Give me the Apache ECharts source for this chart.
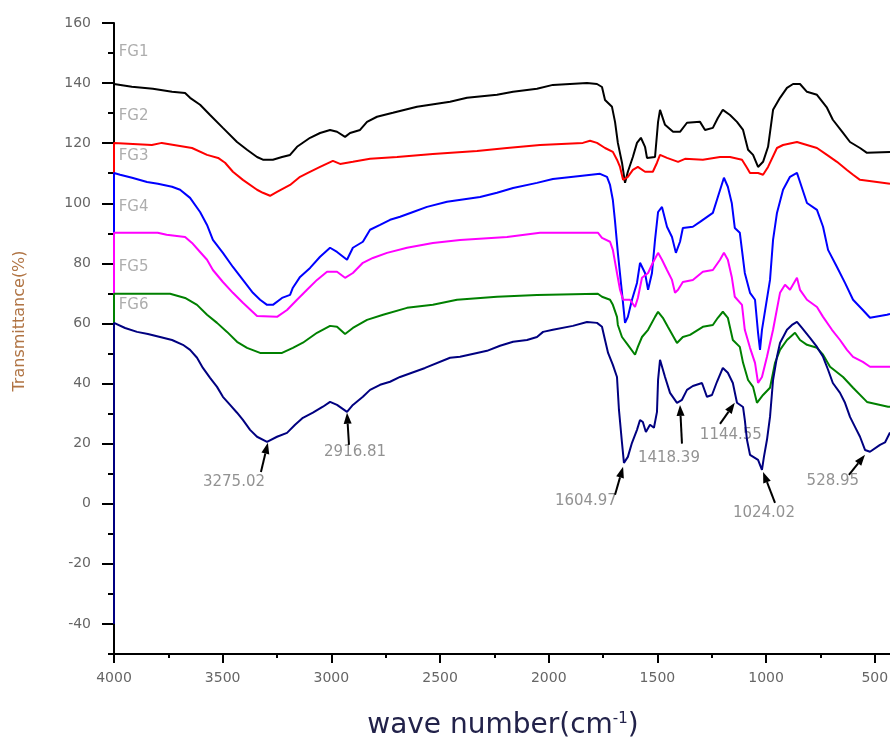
<!DOCTYPE html>
<html>
<head>
<meta charset="utf-8">
<script src="https://cdn.jsdelivr.net/npm/echarts@6/dist/echarts.min.js"></script>
<style>
  html, body { margin: 0; padding: 0; background: #fff; }
  #chart { width: 890px; height: 742px; }
</style>
</head>
<body>
<div id="chart"></div>
<script>
// FTIR spectra, [wavenumber cm-1, transmittance %]
const seriesNames = ["FG1", "FG2", "FG3", "FG4", "FG5", "FG6"];

const fg1 = [[4000,-40],[4000,139.7],[3918,138.8],[3821,138.1],[3733,137.1],[3673,136.7],[3650,135.1],[3604,132.8],[3558,129.4],[3499,125.1],[3434,120.4],[3388,117.8],[3342,115.4],[3315,114.5],[3269,114.5],[3227,115.4],[3190,116.1],[3158,118.8],[3098,121.8],[3052,123.4],[3006,124.4],[2974,123.8],[2937,122.1],[2914,123.4],[2868,124.4],[2836,127.1],[2790,128.8],[2717,130.1],[2606,132.1],[2454,133.8],[2376,135.1],[2238,136.1],[2164,137.1],[2054,138.1],[1981,139.4],[1824,140],[1778,139.7],[1755,138.7],[1741,134.4],[1709,132.1],[1695,127.1],[1682,120.1],[1663,113.5],[1649,106.8],[1636,110.5],[1613,115.4],[1594,120.1],[1576,121.8],[1557,118.8],[1548,115.1],[1511,115.4],[1497,127.1],[1488,131.1],[1465,126.1],[1428,123.8],[1396,123.8],[1364,126.8],[1304,127.1],[1281,124.4],[1245,125.1],[1222,128.4],[1199,131.1],[1166,129.4],[1134,127.1],[1106,124.4],[1083,117.8],[1060,116.1],[1037,112.1],[1014,113.8],[991,118.8],[968,131.1],[936,135.1],[904,138.4],[876,139.7],[844,139.7],[812,137.1],[766,136.1],[720,131.8],[693,127.8],[646,123.4],[614,120.4],[568,118.4],[536,116.8],[430,117.1]];

const fg2 = [[4000,-40],[4000,120.1],[3826,119.4],[3780,120.1],[3641,118.4],[3572,116.1],[3521,115.1],[3489,113.5],[3453,110.5],[3407,107.8],[3342,104.5],[3315,103.5],[3282,102.5],[3250,103.8],[3190,106.1],[3144,108.8],[3108,110.1],[3052,112.1],[2993,114.1],[2960,113.1],[2901,113.8],[2822,114.8],[2698,115.4],[2533,116.4],[2330,117.4],[2192,118.4],[2040,119.4],[1843,120.1],[1810,120.8],[1778,120.1],[1741,118.4],[1705,117.1],[1686,114.5],[1672,112.1],[1658,107.8],[1636,108.8],[1613,111.1],[1590,112.1],[1557,110.5],[1521,110.5],[1502,113.5],[1488,116.1],[1456,115.1],[1405,113.8],[1373,114.8],[1291,114.5],[1212,115.4],[1166,115.4],[1111,114.5],[1088,111.8],[1074,110.1],[1037,110.1],[1014,109.5],[991,112.1],[950,118.4],[922,119.4],[858,120.4],[812,119.4],[766,118.4],[720,116.1],[674,113.8],[628,111.1],[600,109.5],[568,107.8],[490,107.1],[430,106.5]];

const fg3 = [[4000,-40],[4000,110.1],[3972,109.5],[3917,108.5],[3848,107.1],[3798,106.5],[3733,105.5],[3696,104.5],[3650,101.8],[3604,97.1],[3572,92.8],[3545,87.8],[3499,83.5],[3453,78.8],[3407,74.5],[3361,70.2],[3328,67.9],[3296,66.2],[3269,66.2],[3227,68.5],[3190,69.5],[3177,71.9],[3144,75.5],[3098,78.5],[3052,82.2],[3006,85.2],[2974,83.8],[2928,81.2],[2901,85.2],[2855,87.2],[2822,91.2],[2776,92.8],[2730,94.5],[2684,95.5],[2624,97.1],[2560,98.8],[2468,100.5],[2316,102.1],[2238,103.5],[2164,105.1],[2054,106.8],[1981,108.1],[1856,109.1],[1764,109.8],[1732,108.8],[1718,106.1],[1705,101.1],[1695,94],[1682,83.5],[1663,70.2],[1649,60.2],[1636,62.2],[1617,67.9],[1594,73.5],[1580,80.2],[1557,76.8],[1543,71.2],[1525,76.8],[1511,87.8],[1497,97.1],[1479,98.8],[1456,92.2],[1433,88.8],[1415,83.5],[1396,87.2],[1383,91.8],[1337,92.2],[1304,93.8],[1245,96.8],[1222,102.1],[1194,108.5],[1176,105.5],[1158,100.1],[1144,91.8],[1121,90.2],[1098,76.8],[1074,70.2],[1051,67.9],[1037,56.9],[1028,51.2],[1019,57.9],[982,74.5],[968,87.8],[950,96.8],[922,104.5],[890,108.8],[858,110.1],[844,107.1],[812,100.1],[766,97.8],[738,92.2],[715,84.5],[674,78.8],[637,73.5],[600,67.9],[555,64.5],[522,61.9],[444,62.9],[430,63.2]];

const fg4 = [[4000,-40],[4000,90.2],[3799,90.2],[3758,89.5],[3673,88.8],[3641,86.8],[3604,83.8],[3572,81.2],[3545,77.8],[3499,73.8],[3453,70.2],[3407,66.9],[3342,62.5],[3250,62.2],[3204,64.5],[3158,67.9],[3112,71.2],[3066,74.5],[3020,77.2],[2974,77.2],[2937,75.2],[2901,76.8],[2855,80.2],[2809,81.8],[2744,83.5],[2652,85.2],[2533,86.8],[2408,87.8],[2192,88.8],[2040,90.2],[1774,90.2],[1755,88.5],[1718,87.2],[1705,84.5],[1686,76.8],[1672,71.2],[1658,67.9],[1626,67.9],[1603,65.5],[1590,68.5],[1571,75.2],[1543,76.8],[1521,80.2],[1497,83.5],[1479,81.2],[1456,77.8],[1433,74.5],[1419,70.2],[1405,71.2],[1383,73.8],[1337,74.5],[1291,77.2],[1245,77.8],[1212,81.2],[1194,83.5],[1176,81.2],[1158,75.5],[1144,68.9],[1111,66.2],[1098,57.9],[1074,51.9],[1051,46.9],[1037,40.2],[1019,42.2],[996,48.9],[968,57.9],[936,70.2],[913,72.9],[890,71.2],[858,75.2],[844,71.2],[812,67.9],[766,65.5],[738,62.2],[697,57.9],[660,54.5],[628,51.2],[600,48.9],[555,47.2],[522,45.6],[439,45.6],[430,45.6]];

const fg5 = [[4000,-40],[4000,69.9],[3742,69.9],[3673,68.5],[3618,66.2],[3572,62.9],[3526,60.2],[3480,57.2],[3434,53.9],[3388,51.9],[3328,50.2],[3227,50.2],[3177,51.9],[3131,53.6],[3066,56.9],[3006,59.2],[2974,58.9],[2937,56.5],[2901,58.5],[2836,61.2],[2762,62.9],[2652,65.2],[2533,66.2],[2422,67.9],[2238,68.9],[2054,69.5],[1774,69.9],[1755,68.9],[1718,67.9],[1705,66.2],[1686,62.2],[1682,59.5],[1663,55.5],[1636,52.9],[1603,49.6],[1590,52.2],[1571,55.5],[1543,57.9],[1511,62.2],[1497,63.9],[1475,61.9],[1452,58.9],[1410,53.5],[1383,55.5],[1350,56.2],[1291,58.9],[1245,59.5],[1222,61.9],[1199,63.9],[1176,61.9],[1153,54.5],[1121,52.2],[1106,46.9],[1083,41.2],[1060,38.9],[1042,33.6],[1014,36.2],[982,38.6],[959,46.9],[936,51.2],[904,54.5],[867,56.9],[844,54.5],[812,52.9],[766,51.9],[738,49.6],[706,45.6],[646,42.2],[600,38.6],[536,33.9],[439,32.3],[430,32.3]];

const fg6 = [[4000,-40],[4000,60.2],[3949,58.5],[3894,57.2],[3844,56.5],[3788,55.5],[3733,54.5],[3683,52.9],[3650,51.2],[3618,48.6],[3591,45.2],[3558,41.9],[3526,38.9],[3499,35.6],[3466,32.9],[3434,30.3],[3407,27.9],[3374,24.6],[3342,22.3],[3296,20.6],[3250,22.3],[3204,23.6],[3167,26.3],[3131,28.6],[3085,30.3],[3039,32.3],[3006,33.9],[2974,32.9],[2928,30.6],[2901,32.9],[2855,35.6],[2822,37.9],[2776,39.6],[2730,40.6],[2684,42.2],[2569,45.2],[2454,48.6],[2408,48.9],[2330,50.2],[2284,50.9],[2224,52.6],[2164,53.9],[2100,54.5],[2054,55.5],[2026,57.2],[1981,57.9],[1889,59.2],[1824,60.5],[1778,60.2],[1755,58.9],[1741,54.5],[1727,50.2],[1705,46.2],[1686,42.2],[1677,31.3],[1663,20.3],[1654,13.6],[1636,15.6],[1617,20.3],[1594,24.6],[1580,27.9],[1567,27.2],[1553,23.9],[1534,26.3],[1516,25.3],[1502,30.6],[1497,41.2],[1488,47.9],[1465,42.2],[1442,36.9],[1410,33.6],[1387,34.6],[1364,37.9],[1337,39.2],[1295,40.2],[1272,35.6],[1249,36.2],[1226,40.6],[1199,45.2],[1176,43.6],[1153,40.2],[1134,33.6],[1106,32.2],[1098,27.9],[1088,21.3],[1074,16.3],[1037,14.6],[1019,11.3],[1010,15.6],[996,21.3],[982,28.9],[968,41.2],[950,48.9],[936,53.5],[904,57.9],[881,59.5],[858,60.5],[835,58.5],[798,55.2],[766,52.2],[738,48.9],[715,44.6],[693,40.2],[660,36.9],[637,33.6],[614,28.9],[591,25.6],[568,22.3],[545,17.9],[522,17.3],[476,19.6],[453,20.4],[430,23.7]];

const seriesData = [fg1, fg2, fg3, fg4, fg5, fg6];
const seriesColors = ["#000000", "#ff0000", "#0000ff", "#ff00ff", "#008000", "#000080"];

// where the FG names sit (data coords)
const nameLabelAt = [[3981,150.4],[3981,129.1],[3981,115.8],[3981,98.8],[3981,78.8],[3981,66.2]];

// peak annotations on FG6
const peakLabels = ["3275.02", "2916.81", "1604.97", "1418.39", "1144.55", "1024.02", "528.95"];
const peakLabelAt = [[3448,7.3],[2891,17.3],[1829,1.0],[1447,15.3],[1162,22.9],[1010,-3.0],[693,7.6]];
const arrowFrom = [[3324,10.6],[2919,19.6],[1695,3.0],[1387,20.0],[1212,26.6],[959,0.3],[619,9.6]];
const arrowTo = [[3292,20.3],[2928,30.3],[1658,12.3],[1396,32.9],[1144,33.6],[1014,10.6],[545,16.3]];

const xMajor = [4000, 3500, 3000, 2500, 2000, 1500, 1000, 500];
const xMinor = [3750, 3250, 2750, 2250, 1750, 1250, 750];
const yMajor = [-40, -20, 0, 20, 40, 60, 80, 100, 120, 140, 160];
const yMinor = [-50, -30, -10, 10, 30, 50, 70, 90, 110, 130, 150];

const FONT = "DejaVu Sans";
const chart = echarts.init(document.getElementById("chart"));

const lineSeries = seriesData.map((d, i) => ({
  name: seriesNames[i],
  type: "line",
  data: d,
  symbol: "none",
  lineStyle: { color: seriesColors[i], width: 2 },
  itemStyle: { color: seriesColors[i] },
}));

// arrow: shaft + filled head, positions from the axes
function renderArrow(params, api) {
  const a = api.coord([api.value(0), api.value(1)]);
  const b = api.coord([api.value(2), api.value(3)]);
  const dx = b[0] - a[0], dy = b[1] - a[1];
  const len = Math.sqrt(dx * dx + dy * dy) || 1;
  const ux = dx / len, uy = dy / len;
  const headLen = 11, headW = 4;
  const bx = b[0] - ux * headLen, by = b[1] - uy * headLen;
  return {
    type: "group",
    children: [
      { type: "line", shape: { x1: a[0], y1: a[1], x2: bx, y2: by }, style: { stroke: "#000", lineWidth: 2 } },
      {
        type: "polygon",
        shape: { points: [[b[0], b[1]], [bx - uy * headW, by + ux * headW], [bx + uy * headW, by - ux * headW]] },
        style: { fill: "#000" },
      },
    ],
  };
}

const plainNum = (v) => String(v);

const option = {
  animation: false,
  backgroundColor: "#fff",
  grid: { left: 114, top: 23, right: 0, bottom: 88, containLabel: false, outerBoundsMode: "none" },
  xAxis: [
    {
      type: "value",
      min: 430,
      max: 4000,
      inverse: true,
      splitLine: { show: false },
      axisLine: { onZero: false, lineStyle: { color: "#000", width: 2 } },
      axisTick: { customValues: xMajor, length: 9, lineStyle: { color: "#000", width: 2 } },
      axisLabel: { customValues: xMajor, formatter: plainNum, margin: 17, color: "#666", fontSize: 14, fontFamily: FONT },
    },
    {
      type: "value",
      min: 430,
      max: 4000,
      inverse: true,
      position: "bottom",
      splitLine: { show: false },
      axisLine: { show: false, onZero: false },
      axisTick: { customValues: xMinor, length: 4, lineStyle: { color: "#000", width: 2 } },
      axisLabel: { show: false },
    },
  ],
  yAxis: [
    {
      type: "value",
      min: -50,
      max: 160,
      splitLine: { show: false },
      axisLine: { show: true, onZero: false, lineStyle: { color: "#000", width: 2 } },
      axisTick: { show: true, customValues: yMajor, length: 12, lineStyle: { color: "#000", width: 2 } },
      axisLabel: { customValues: yMajor, formatter: plainNum, margin: 23, color: "#666", fontSize: 14, fontFamily: FONT },
    },
    {
      type: "value",
      min: -50,
      max: 160,
      position: "left",
      splitLine: { show: false },
      axisLine: { show: false, onZero: false },
      axisTick: { show: true, customValues: yMinor, length: 6, lineStyle: { color: "#000", width: 2 } },
      axisLabel: { show: false },
    },
  ],
  series: [
    ...lineSeries,
    {
      type: "custom",
      silent: true,
      renderItem: renderArrow,
      encode: { x: [0, 2], y: [1, 3] },
      data: arrowFrom.map((p, i) => [p[0], p[1], arrowTo[i][0], arrowTo[i][1]]),
      z: 5,
    },
    {
      type: "scatter",
      silent: true,
      symbolSize: 1,
      itemStyle: { color: "rgba(0,0,0,0)" },
      label: { show: true, position: "right", distance: 0, color: "#999", fontSize: 15, fontFamily: FONT,
        formatter: (p) => seriesNames[p.dataIndex] },
      data: nameLabelAt,
    },
    {
      type: "scatter",
      silent: true,
      symbolSize: 1,
      itemStyle: { color: "rgba(0,0,0,0)" },
      label: { show: true, position: "inside", color: "#777", fontSize: 15, fontFamily: FONT,
        formatter: (p) => peakLabels[p.dataIndex] },
      data: peakLabelAt,
    },
  ],
  graphic: [
    {
      type: "text",
      x: 20,
      y: 321,
      rotation: Math.PI / 2,
      style: { text: "Transmittance(%)", fill: "#b07444", fontSize: 16, fontFamily: FONT,
        align: "center", verticalAlign: "middle" },
    },
    {
      type: "text",
      x: 503,
      y: 726,
      style: {
        text: "{a|wave number(cm}{s|-1}{a|)}",
        align: "center",
        verticalAlign: "middle",
        rich: {
          a: { fontSize: 28, fontFamily: FONT, fill: "#22224a", color: "#22224a" },
          s: { fontSize: 15, fontFamily: FONT, fill: "#22224a", color: "#22224a", verticalAlign: "top" },
        },
      },
    },
  ],
};

chart.setOption(option);
</script>
</body>
</html>
